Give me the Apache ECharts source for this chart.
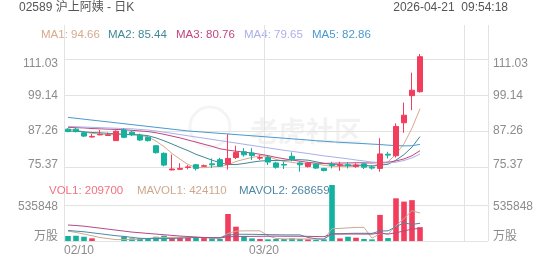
<!DOCTYPE html>
<html><head><meta charset="utf-8">
<script src="https://cdn.jsdelivr.net/npm/echarts@6/dist/echarts.min.js"></script>
<style>html,body{margin:0;padding:0;background:#fff}#c{width:552px;height:265px}</style>
</head><body><div id="c"></div><script>
const dates = ['02/10','02/11','02/12','02/13','02/16','02/20','02/23','02/24','02/25','02/26','02/27',
  '03/02','03/03','03/04','03/05','03/06','03/09','03/10','03/11','03/12','03/13','03/16','03/17','03/18','03/19','03/20',
  '03/23','03/24','03/25','03/26','03/27','03/30','03/31','04/01','04/02','04/08','04/09','04/10','04/13','04/14','04/15',
  '04/16','04/17','04/20','04/21',
  '04/22','04/23','04/24','04/27','04/28','04/29','04/30','05/04'];
const xTickIdx = [0, 25];
const opens  = [87.9,87.9,86.7,85.3,86.0,85.8,84.1,87.6,86.9,85.9,85.2,82.4,79.9,74.4,74.6,75.2,76.1,75.6,76.4,77.8,76.3,78.5,80.4,80.0,78.3,78.5,76.7,76.2,78.9,76.7,75.5,76.3,74.9,76.1,75.9,76.1,75.5,76.4,75.3,74.9,79.6,79.1,90.0,99.0,100.3];
const closes = [87.1,87.1,85.6,85.5,86.2,86.0,87.2,85.2,86.0,84.3,84.1,80.1,76.0,74.7,74.9,75.4,74.9,75.8,76.1,75.6,78.2,80.2,79.4,79.2,78.5,77.0,75.3,76.0,77.9,76.1,76.6,75.0,74.2,75.9,76.1,75.9,76.0,75.3,75.0,79.7,79.3,88.8,92.5,100.8,111.9];
const lows   = [86.9,86.8,85.3,85.1,85.9,85.7,84.0,84.9,85.6,84.0,83.8,79.8,75.6,74.2,74.4,74.6,74.2,75.4,75.0,75.4,74.5,78.0,78.8,77.7,77.7,76.0,74.8,74.7,77.3,73.8,75.2,74.7,73.9,74.9,74.1,74.9,75.1,74.7,74.5,73.8,78.2,78.5,86.7,94.2,100.0];
const highs  = [88.2,88.3,87.2,86.3,87.6,86.8,87.5,88.2,87.3,86.4,85.5,82.6,80.2,79.5,76.6,76.0,76.4,76.2,78.2,78.4,86.2,82.4,81.6,81.6,79.3,79.0,77.1,77.1,80.2,77.1,77.0,76.6,75.1,77.1,77.1,77.0,76.6,76.6,76.0,84.9,80.4,89.8,96.7,106.6,112.8];
const ma1 = [87.9,87.6,87.0,86.5,86.3,86.08,86.1,86.02,86.12,85.74,85.36,83.94,82.1,79.84,77.96,76.22,75.18,75.14,75.42,75.56,76.12,77.18,77.9,78.52,79.1,78.86,77.88,77.2,76.94,76.46,76.38,76.32,75.96,75.56,75.56,75.46,75.66,75.88,75.7,76.42,77.06,79.62,83.06,88.22,94.66];
const ma2 = [87.3,87.2,87.0,86.8,86.7,86.5,86.4,86.2,86.1,86.02,85.72,85.02,84.06,82.98,81.85,80.79,79.56,78.62,77.63,76.76,76.17,76.18,76.52,76.97,77.33,77.49,77.53,77.55,77.73,77.78,77.62,77.1,76.58,76.25,76.01,75.92,75.99,75.92,75.63,75.99,76.26,77.64,79.47,81.96,85.44];
const ma3 = [88.5,88.4,88.3,88.1,88.0,87.9,87.8,87.7,87.5,87.3,87.1,86.7,86.2,85.6,85.0,84.3,83.6,82.9,82.2,81.39,80.95,80.6,80.29,79.98,79.59,79.14,78.55,78.09,77.68,77.27,76.9,76.64,76.55,76.61,76.67,76.7,76.76,76.74,76.68,76.89,76.94,77.37,78.03,79.1,80.76];
const ma4 = [88.8,88.7,88.6,88.5,88.4,88.3,88.2,88.1,88.0,87.8,87.6,87.3,86.9,86.5,86.1,85.7,85.3,84.9,84.5,84.1,83.7,83.3,82.9,82.5,82.1,81.7,81.3,80.9,80.55,80.19,79.84,79.43,79.05,78.73,78.4,78.07,77.69,77.36,77.0,76.84,76.68,76.97,77.52,78.39,79.65];
const ma5 = [91.8,91.5,91.2,90.9,90.6,90.3,90.0,89.7,89.4,89.1,88.8,88.5,88.2,87.9,87.6,87.3,87.1,86.9,86.7,86.5,86.3,86.1,85.9,85.7,85.5,85.3,85.1,84.9,84.7,84.5,84.3,84.05,83.9,83.7,83.55,83.4,83.25,83.1,82.95,82.8,82.6,82.45,82.35,82.4,82.86];
const volumes = [76000,80000,65000,41000,0,0,0,70000,40000,40000,40000,65000,80000,50000,50000,50000,50000,48000,40000,30000,410000,217000,76000,40000,30000,25000,30000,30000,40000,30000,25000,15000,25000,850000,40000,65000,50000,30000,25000,396000,45000,648000,598000,620000,209700];
const mavol1 = [150000,130000,105000,80000,52400,37200,21200,22200,22000,30000,38000,51000,53000,55000,57000,59000,56000,49600,47600,43600,115600,149000,154600,154600,154600,77600,40200,31000,31000,31000,31000,28000,27000,189000,191000,199000,206000,207000,42000,113000,108000,229000,342000,460000,424110];
const mavol2 = [160000,150000,140000,125000,110000,95000,80000,70000,55000,41200,37600,36100,37600,38500,43500,48500,53500,51300,51300,50300,87300,102500,102100,101100,99100,96600,94600,92800,92800,92800,54300,34100,29000,110000,111000,115000,117000,117000,115500,152100,154100,217400,274700,251700,268659];
const mavol3 = [243000,235000,225000,210000,195000,180000,165000,150000,135000,125000,115000,105000,95000,85000,75000,68000,60000,54000,50000,46000,62450,69300,69850,69800,71300,72550,74050,72050,72050,71550,70800,68300,65550,105550,105050,105800,105800,104900,104150,122450,104200,125750,151850,180850,189800];
const priceTicks = [75.37, 87.26, 99.14, 111.03];
const volTicks = [0, 535848];
const volTickLabels = ['万股', '535848'];
const maNames = ['MA1', 'MA2', 'MA3', 'MA4', 'MA5'];
const maLast = ['94.66', '85.44', '80.76', '79.65', '82.86'];
const volLegend = [['VOL1', '209700'], ['MAVOL1', '424110'], ['MAVOL2', '268659']];
const titleText = '02589 沪上阿姨 - 日K';
const timeText = '2026-04-21  09:54:18';

const RED = '#f23d5c', TEAL = '#13b29f';
const maColors = ['#d6a98b', '#3f8996', '#c2457e', '#aab0ea', '#4a9ad0'];
const volColors = ['#f27080', '#cda890', '#4f87a6'];
const mavol3Color = '#b54a86';
const FONT = 'Arial, "Liberation Sans", "Noto Sans CJK SC", sans-serif';
const LBL = '#8c8c8c';
const GRIDC = '#e3e3e3';

const chart = echarts.init(document.getElementById('c'), null, {renderer: 'canvas'});
const N = dates.length;
const padArr = a => a.concat(new Array(N - a.length).fill('-'));

function priceFmt(v) {
  const i = priceTicks.findIndex(t => Math.abs(t - v) < 1e-6);
  const s = i >= 0 ? priceTicks[i].toFixed(2) : '';
  if (i === priceTicks.length - 1) return '{t|' + s + '}';
  if (i === 0) return '{b|' + s + '}';
  return '{m|' + s + '}';
}
function volFmt(v) {
  const i = volTicks.findIndex(t => Math.abs(t - v) < 1e-6);
  const s = i >= 0 ? volTickLabels[i] : '';
  return i === 0 ? '{b|' + s + '}' : '{m|' + s + '}';
}
const lblStyle = {fontSize: 12, color: LBL, fontFamily: FONT};
const priceRich = {t: Object.assign({padding: [9, 0, 0, 0]}, lblStyle), b: Object.assign({padding: [0, 0, 4, 0]}, lblStyle), m: lblStyle};
const volRich = {b: Object.assign({padding: [0, 0, 8, 0]}, lblStyle), m: Object.assign({padding: [2, 0, 0, 0]}, lblStyle)};

function priceAxis(pos) {
  return {type: 'value', gridIndex: 0, position: pos, min: 69.4, max: 122.4, scale: true,
    axisLine: {show: false}, axisTick: {show: false, customValues: priceTicks},
    axisLabel: {customValues: priceTicks, formatter: priceFmt, rich: priceRich, margin: pos === 'left' ? 6 : 5, color: LBL, fontSize: 12, fontFamily: FONT},
    splitLine: {show: pos === 'left', lineStyle: {color: GRIDC, width: 1}}};
}
function volAxis(pos) {
  return {type: 'value', gridIndex: 1, position: pos, min: 0, max: 850080,
    axisLine: {show: false}, axisTick: {show: false, customValues: volTicks},
    axisLabel: {customValues: volTicks, formatter: volFmt, rich: volRich, margin: pos === 'left' ? 6 : 5, color: LBL, fontSize: 12, fontFamily: FONT},
    splitLine: {show: pos === 'left', lineStyle: {color: GRIDC, width: 1}}};
}

const candleData = opens.map((o, i) => [o, closes[i], lows[i], highs[i]]);
const volData = volumes.map((v, i) => ({value: v, itemStyle: {color: closes[i] >= opens[i] ? RED : TEAL}}));

const LEG_FONT = '11.5px ' + FONT;
const graphics = [
  {type: 'text', x: 19, y: 8, style: {text: titleText, fill: '#555', font: '12px ' + FONT, textVerticalAlign: 'middle'}},
  {type: 'text', x: 508, y: 8, style: {text: timeText, fill: '#555', font: '12px ' + FONT, textAlign: 'right', textVerticalAlign: 'middle'}},
  {type: 'circle', shape: {cx: 210, cy: 127, r: 20}, style: {fill: 'none', stroke: 'rgba(0,0,0,0.045)', lineWidth: 3}, z: 0},
  {type: 'text', x: 250, y: 131, style: {text: '老虎社区', fill: 'rgba(0,0,0,0.05)', font: 'bold 28px "Noto Sans CJK SC", sans-serif', textVerticalAlign: 'middle'}, z: 0}
];
const maX = [41, 108, 176, 244, 312];
maNames.forEach((n, i) => graphics.push({type: 'text', x: maX[i], y: 35, style: {text: n + ': ' + maLast[i], fill: maColors[i], font: LEG_FONT, textVerticalAlign: 'middle'}}));
const volX = [49, 137, 239];
volLegend.forEach((p, i) => graphics.push({type: 'text', x: volX[i], y: 191, z: 100, style: {text: p[0] + ': ' + p[1], fill: volColors[i], font: LEG_FONT, textVerticalAlign: 'middle'}}));

const maSeries = [ma1, ma2, ma3, ma4, ma5].map((d, i) => ({
  type: 'line', name: maNames[i], xAxisIndex: 0, yAxisIndex: 0, data: padArr(d), symbol: 'none', silent: true,
  lineStyle: {width: 1, color: maColors[i]}, z: 3
}));
const volLineSeries = [[mavol1, volColors[1]], [mavol2, volColors[2]], [mavol3, mavol3Color]].map(p => ({
  type: 'line', xAxisIndex: 1, yAxisIndex: 2, data: padArr(p[0]), symbol: 'none', silent: true,
  lineStyle: {width: 1, color: p[1]}, z: 3
}));

chart.setOption({
  animation: false,
  backgroundColor: '#fff',
  grid: [
    {left: 64, right: 64, top: 25, height: 160},
    {left: 64, right: 64, top: 185, height: 56}
  ],
  xAxis: [
    {type: 'category', gridIndex: 0, data: dates, boundaryGap: true, axisLine: {show: false}, axisTick: {show: false}, axisLabel: {show: false}, splitLine: {show: false}},
    {type: 'category', gridIndex: 1, data: dates, boundaryGap: true, axisLine: {show: false}, axisTick: {show: false}, axisLabel: {show: false}, splitLine: {show: false}},
    {type: 'value', gridIndex: 0, min: 0, max: N, interval: 25, axisLine: {show: false}, axisTick: {show: false}, axisLabel: {show: false}, splitLine: {show: true, lineStyle: {color: GRIDC}}},
    {type: 'value', gridIndex: 1, min: 0, max: N, interval: 25, position: 'bottom', axisLine: {show: false}, axisTick: {show: false},
      axisLabel: {show: true, margin: 4, color: LBL, fontSize: 12, fontFamily: FONT, alignMinLabel: 'left', showMaxLabel: false,
        formatter: v => xTickIdx.indexOf(v) >= 0 ? dates[v] : ''},
      splitLine: {show: true, lineStyle: {color: GRIDC}}}
  ],
  yAxis: [priceAxis('left'), priceAxis('right'), volAxis('left'), volAxis('right')],
  graphic: graphics,
  series: [
    {type: 'candlestick', xAxisIndex: 0, yAxisIndex: 0, data: candleData, barWidth: '70%', silent: true, z: 4,
      itemStyle: {color: RED, color0: TEAL, borderColor: RED, borderColor0: TEAL, borderWidth: 1}},
    ...maSeries,
    {type: 'bar', xAxisIndex: 1, yAxisIndex: 2, data: volData, barWidth: '70%', silent: true, z: 2},
    ...volLineSeries
  ]
});
</script></body></html>
